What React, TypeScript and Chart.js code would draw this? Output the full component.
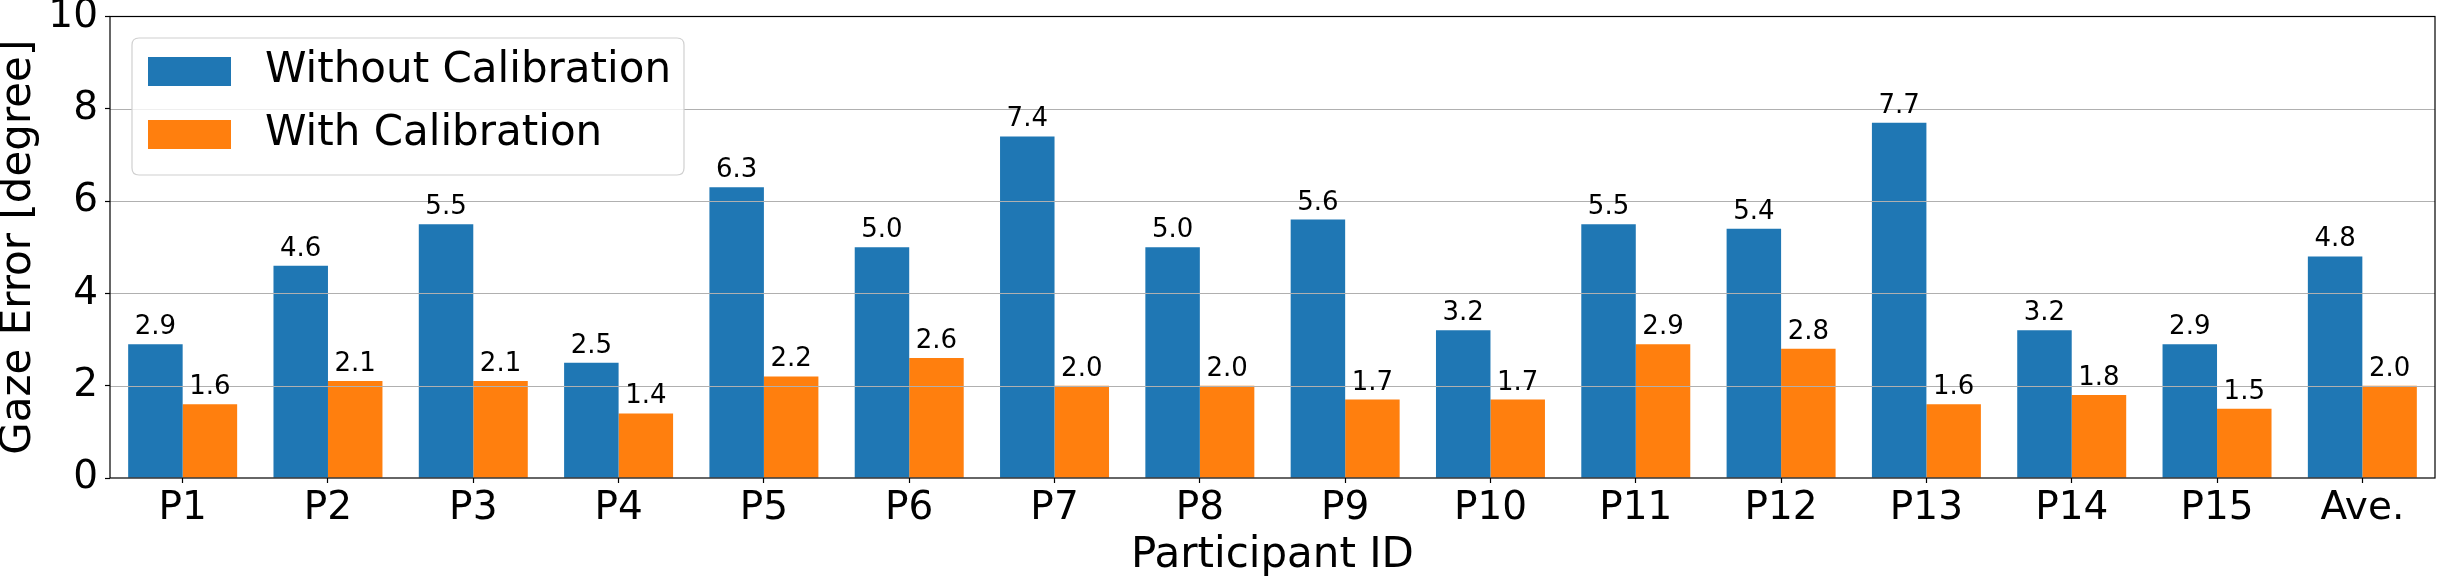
import React, { useEffect, useRef } from 'react';
import { Chart, registerables } from 'chart.js';

Chart.register(...registerables);

const categories = ['P1', 'P2', 'P3', 'P4', 'P5', 'P6', 'P7', 'P8', 'P9', 'P10', 'P11', 'P12', 'P13', 'P14', 'P15', 'Ave.'];
const withoutCalibration = [2.9, 4.6, 5.5, 2.5, 6.3, 5.0, 7.4, 5.0, 5.6, 3.2, 5.5, 5.4, 7.7, 3.2, 2.9, 4.8];
const withCalibration = [1.6, 2.1, 2.1, 1.4, 2.2, 2.6, 2.0, 2.0, 1.7, 1.7, 2.9, 2.8, 1.6, 1.8, 1.5, 2.0];
const seriesNames = ['Without Calibration', 'With Calibration'];
const seriesColors = ['#1f77b4', '#ff7f0e'];
const yTickValues = [0, 2, 4, 6, 8, 10];
const xTitle = 'Participant ID';
const yTitle = 'Gaze Error [degree]';

const FONT = '"DejaVu Sans", "Liberation Sans", sans-serif';

const overlayPlugin = {
  id: 'overlay',
  afterDatasetsDraw(chart: any) {
    const { ctx, chartArea: ca } = chart;
    const y = chart.scales.y;
    ctx.save();
    // grid lines drawn above bars (matplotlib style)
    ctx.strokeStyle = '#b0b0b0';
    ctx.lineWidth = 1.2;
    yTickValues.forEach((v) => {
      if (v === y.min || v === y.max) return;
      const py = Math.round(y.getPixelForValue(v)) + 0.5;
      ctx.beginPath();
      ctx.moveTo(ca.left, py);
      ctx.lineTo(ca.right, py);
      ctx.stroke();
    });
    // value labels
    ctx.fillStyle = '#000';
    ctx.font = `26px ${FONT}`;
    ctx.textAlign = 'center';
    ctx.textBaseline = 'alphabetic';
    chart.data.datasets.forEach((ds: any, i: number) => {
      const meta = chart.getDatasetMeta(i);
      meta.data.forEach((el: any, j: number) => {
        const v = ds.data[j];
        ctx.fillText(Number(v).toFixed(1), el.x, el.y - 10);
      });
    });
    // spines
    ctx.strokeStyle = '#000';
    ctx.lineWidth = 1.2;
    ctx.strokeRect(ca.left, ca.top, ca.right - ca.left, ca.bottom - ca.top);
    // legend
    const bx = ca.left + 22;
    const by = ca.top + 21.5;
    const bw = 552;
    const bh = 137;
    const r = 7;
    ctx.beginPath();
    ctx.moveTo(bx + r, by);
    ctx.lineTo(bx + bw - r, by);
    ctx.quadraticCurveTo(bx + bw, by, bx + bw, by + r);
    ctx.lineTo(bx + bw, by + bh - r);
    ctx.quadraticCurveTo(bx + bw, by + bh, bx + bw - r, by + bh);
    ctx.lineTo(bx + r, by + bh);
    ctx.quadraticCurveTo(bx, by + bh, bx, by + bh - r);
    ctx.lineTo(bx, by + r);
    ctx.quadraticCurveTo(bx, by, bx + r, by);
    ctx.closePath();
    ctx.fillStyle = 'rgba(255,255,255,0.8)';
    ctx.fill();
    ctx.strokeStyle = '#d0d0d0';
    ctx.lineWidth = 1.2;
    ctx.stroke();
    ctx.font = `42px ${FONT}`;
    ctx.textAlign = 'left';
    ctx.textBaseline = 'middle';
    chart.data.datasets.forEach((ds: any, i: number) => {
      const rowY = by + 19 + i * 63;
      ctx.fillStyle = ds.backgroundColor;
      ctx.fillRect(bx + 16, rowY, 83, 29);
      ctx.fillStyle = '#000';
      ctx.fillText(ds.label, bx + 133, rowY + 14.5);
    });
    ctx.restore();
  },
};

export default function App() {
  const ref = useRef<HTMLCanvasElement | null>(null);
  useEffect(() => {
    document.body.style.margin = '0';
    document.body.style.overflow = 'hidden';
    if (!ref.current) return;
    const chart = new Chart(ref.current, {
      type: 'bar',
      data: {
        labels: categories,
        datasets: [
          {
            label: seriesNames[0],
            data: withoutCalibration,
            backgroundColor: seriesColors[0],
            borderWidth: 0,
            barPercentage: 1,
            categoryPercentage: 0.75,
          },
          {
            label: seriesNames[1],
            data: withCalibration,
            backgroundColor: seriesColors[1],
            borderWidth: 0,
            barPercentage: 1,
            categoryPercentage: 0.75,
          },
        ],
      },
      options: {
        animation: false,
        responsive: true,
        maintainAspectRatio: false,
        layout: { padding: { left: 0, right: 3, top: 16.5, bottom: 0 } },
        plugins: {
          legend: { display: false },
          tooltip: { enabled: false },
        },
        scales: {
          x: {
            offset: true,
            border: { display: false },
            grid: {
              display: true,
              drawOnChartArea: false,
              drawTicks: true,
              tickLength: 5,
              tickColor: '#000',
              tickWidth: 1.2,
              offset: false,
            },
            ticks: {
              color: '#000',
              font: { family: FONT, size: 39, lineHeight: 1.2 },
              padding: 2,
              maxRotation: 0,
              autoSkip: false,
            },
            title: {
              display: true,
              text: xTitle,
              color: '#000',
              font: { family: FONT, size: 42, lineHeight: 1 },
              padding: 0,
            },
            afterFit(scale: any) {
              scale.height = 99;
              scale.paddingLeft = 0;
              scale.paddingRight = 0;
            },
          },
          y: {
            min: 0,
            max: 10,
            border: { display: false },
            grid: {
              display: true,
              drawOnChartArea: false,
              drawTicks: true,
              tickLength: 5,
              tickColor: '#000',
              tickWidth: 1.2,
            },
            afterBuildTicks(scale: any) {
              scale.ticks = yTickValues.map((v) => ({ value: v }));
            },
            ticks: {
              color: '#000',
              font: { family: FONT, size: 39, lineHeight: 1.2 },
              padding: 7,
            },
            title: {
              display: true,
              text: yTitle,
              color: '#000',
              font: { family: FONT, size: 42, lineHeight: 0.9 },
              padding: 0,
            },
            afterFit(scale: any) {
              scale.width = 110;
              scale.paddingTop = 0;
              scale.paddingBottom = 0;
            },
          },
        },
      },
      plugins: [overlayPlugin],
    } as any);
    return () => chart.destroy();
  }, []);
  return (
    <div style={{ width: '2438px', height: '577px', position: 'relative' }}>
      <canvas ref={ref} />
    </div>
  );
}
